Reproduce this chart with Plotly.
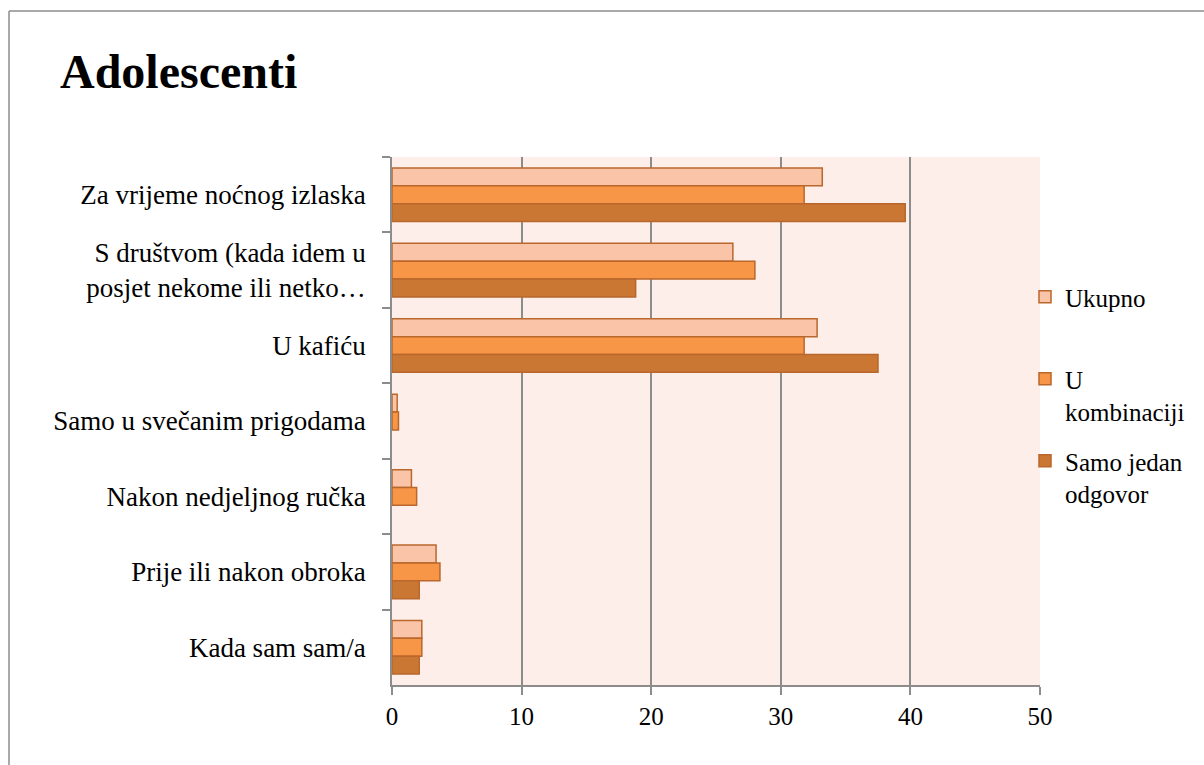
import plotly.graph_objects as go

categories = [
    "Za vrijeme noćnog izlaska",
    "S društvom (kada idem u<br>posjet nekome ili netko…",
    "U kafiću",
    "Samo u svečanim prigodama",
    "Nakon nedjeljnog ručka",
    "Prije ili nakon obroka",
    "Kada sam sam/a",
]
series_names = ["Ukupno\u00a0<br>\u00a0", "U<br>kombinaciji", "Samo jedan<br>odgovor"]
ukupno = [33.2, 26.3, 32.8, 0.4, 1.5, 3.4, 2.3]
u_kombinaciji = [31.8, 28.0, 31.8, 0.5, 1.9, 3.7, 2.3]
samo_jedan = [39.6, 18.8, 37.5, 0.0, 0.0, 2.1, 2.1]
x_ticks = [0, 10, 20, 30, 40, 50]

fills = ["#FAC4A9", "#F79646", "#CB7734"]
edge = "#B9672C"
FONT = "Liberation Serif, Times New Roman, serif"

fig = go.Figure()
for name, vals, col in zip(series_names, [ukupno, u_kombinaciji, samo_jedan], fills):
    fig.add_trace(go.Bar(
        y=categories, x=vals, name=name, orientation="h",
        marker=dict(color=col, line=dict(color=edge, width=[1.5 if v > 0 else 0 for v in vals])),
        legendgroup=name,
    ))

W, H = 1204, 765
L, R, T, B = 392, 164, 157, 80
PW, PH = W - L - R, H - T - B

fig.update_layout(
    width=W, height=H, autosize=False,
    margin=dict(l=L, r=R, t=T, b=B, pad=0),
    paper_bgcolor="white", plot_bgcolor="#FDEEE9",
    barmode="group", bargap=0.29, bargroupgap=0,
    font=dict(family=FONT, size=26, color="black"),
    title=dict(text="<b>Adolescenti</b>", font=dict(family=FONT, size=48, color="black"),
               xref="container", yref="container", x=60 / W, xanchor="left",
               y=1 - 71 / H, yanchor="middle"),
    legend=dict(x=(1025 - L) / PW, xref="paper", y=(H - B - 274) / PH, yref="paper",
                xanchor="left", yanchor="top", traceorder="grouped",
                tracegroupgap=14, valign="top", font=dict(family=FONT, size=25, color="black"),
                itemwidth=30, bgcolor="rgba(0,0,0,0)", borderwidth=0),
    showlegend=True,
)
fig.update_xaxes(range=[0, 50], tickvals=x_ticks, showgrid=True, gridcolor="#8C8C8C", gridwidth=1.5,
                 showline=True, linecolor="#8C8C8C", linewidth=1.5, ticks="outside",
                 ticklen=8, tickcolor="#8C8C8C", tickwidth=1.5, zeroline=False,
                 tickfont=dict(family=FONT, size=25, color="black"), fixedrange=True)
fig.update_yaxes(autorange="reversed", showline=True, linecolor="#8C8C8C", linewidth=1.5,
                 ticks="outside", tickson="boundaries", ticklen=8, tickcolor="#8C8C8C",
                 tickwidth=1.5, showgrid=False, tickfont=dict(family=FONT, size=27, color="black"),
                 ticklabelstandoff=19, fixedrange=True)

# outer chart border
fig.add_shape(type="line", xref="paper", yref="paper",
              x0=(9 - L) / PW, x1=(9 - L) / PW,
              y0=(H - B - 11) / PH, y1=-0.2,
              line=dict(color="#8C8C8C", width=1.5))
fig.add_shape(type="line", xref="paper", yref="paper",
              x0=(9 - L) / PW, x1=(W + 5 - L) / PW,
              y0=(H - B - 11) / PH, y1=(H - B - 11) / PH,
              line=dict(color="#8C8C8C", width=1.5))

fig.write_html("out.html", config={"displayModeBar": False},
               post_script="document.body.style.margin='0';document.body.style.overflow='hidden';")
